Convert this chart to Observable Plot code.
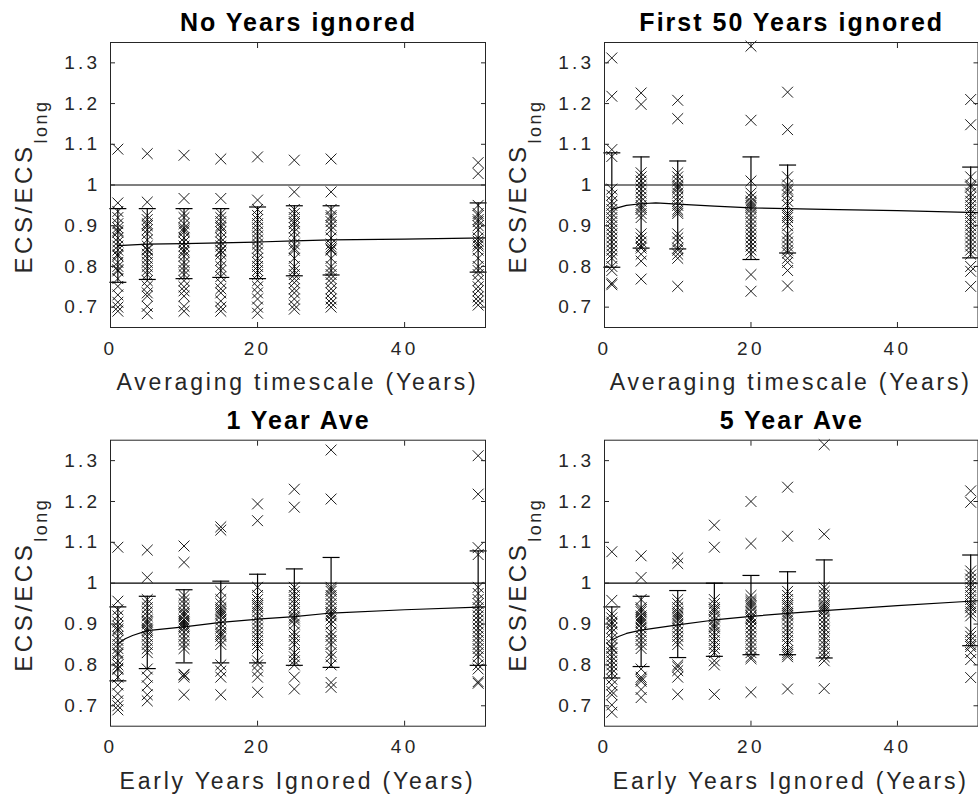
<!DOCTYPE html>
<html>
<head>
<meta charset="utf-8">
<script src="https://cdn.jsdelivr.net/npm/d3@7"></script>
<script src="https://cdn.jsdelivr.net/npm/@observablehq/plot@0.6"></script>
<style>
  html, body { margin: 0; padding: 0; background: #fff; }
  #root { position: relative; width: 978px; height: 798px; overflow: hidden; background: #fff; }
  .panel { position: absolute; }
</style>
</head>
<body>
<div id="root"></div>
<script>
// ---------------- data ----------------
const xAveraging = [1, 5, 10, 15, 20, 25, 30, 50];
const xFirst50 = [1, 5, 10, 20, 25, 50];
const xEarlyIgnored = [1, 5, 10, 15, 20, 25, 30, 50];
const yTicks = [0.7, 0.8, 0.9, 1.0, 1.1, 1.2, 1.3];
const xTicks = [0, 20, 40];

// averaging timescale, no years ignored
const ave1 = [1.088, 0.956, 0.935, 0.92, 0.905, 0.895, 0.888, 0.884, 0.87, 0.86, 0.85, 0.84, 0.83, 0.826, 0.81, 0.80, 0.792, 0.789, 0.77, 0.751, 0.73, 0.712, 0.70, 0.69];
const ave5 = [1.077, 0.958, 0.925, 0.915, 0.905, 0.90, 0.89, 0.88, 0.865, 0.85, 0.842, 0.84, 0.83, 0.82, 0.81, 0.80, 0.79, 0.78, 0.765, 0.751, 0.735, 0.727, 0.702, 0.684];
const ave10 = [1.073, 0.967, 0.93, 0.92, 0.905, 0.895, 0.89, 0.885, 0.87, 0.86, 0.85, 0.84, 0.835, 0.825, 0.81, 0.80, 0.79, 0.78, 0.765, 0.75, 0.74, 0.727, 0.702, 0.69];
const ave15 = [1.064, 0.967, 0.93, 0.92, 0.91, 0.90, 0.895, 0.885, 0.87, 0.86, 0.85, 0.84, 0.838, 0.83, 0.815, 0.80, 0.79, 0.775, 0.76, 0.745, 0.735, 0.715, 0.70, 0.69];
const ave20 = [1.069, 0.963, 0.94, 0.925, 0.915, 0.905, 0.895, 0.885, 0.875, 0.865, 0.855, 0.845, 0.835, 0.82, 0.81, 0.80, 0.79, 0.78, 0.765, 0.75, 0.735, 0.72, 0.70, 0.685];
const ave25 = [1.061, 0.983, 0.94, 0.93, 0.92, 0.91, 0.905, 0.895, 0.885, 0.87, 0.855, 0.845, 0.84, 0.82, 0.80, 0.79, 0.78, 0.77, 0.76, 0.745, 0.735, 0.72, 0.705, 0.695];
const ave30 = [1.064, 0.983, 0.94, 0.925, 0.92, 0.91, 0.90, 0.89, 0.87, 0.855, 0.848, 0.843, 0.84, 0.82, 0.80, 0.79, 0.78, 0.77, 0.76, 0.745, 0.735, 0.72, 0.71, 0.70];
const ave50 = [1.055, 1.028, 0.95, 0.93, 0.925, 0.915, 0.91, 0.90, 0.89, 0.87, 0.862, 0.855, 0.85, 0.84, 0.82, 0.80, 0.79, 0.78, 0.765, 0.75, 0.74, 0.725, 0.715, 0.705];

// first 50 years ignored
const ave1Skip50 = [1.312, 1.218, 1.087, 1.07, 0.99, 0.975, 0.96, 0.95, 0.94, 0.93, 0.92, 0.91, 0.90, 0.89, 0.88, 0.87, 0.86, 0.85, 0.84, 0.83, 0.82, 0.80, 0.79, 0.759, 0.755];
const ave5Skip50 = [1.226, 1.198, 1.03, 1.02, 1.01, 1.00, 0.99, 0.98, 0.97, 0.96, 0.95, 0.945, 0.94, 0.93, 0.92, 0.88, 0.87, 0.86, 0.85, 0.845, 0.83, 0.813, 0.769];
const ave10Skip50 = [1.208, 1.163, 1.03, 1.02, 1.01, 1.0, 0.995, 0.99, 0.98, 0.97, 0.96, 0.95, 0.94, 0.935, 0.93, 0.88, 0.87, 0.86, 0.845, 0.84, 0.83, 0.82, 0.751];
const ave20Skip50 = [1.341, 1.159, 1.01, 0.98, 0.97, 0.96, 0.955, 0.95, 0.945, 0.94, 0.93, 0.92, 0.91, 0.90, 0.89, 0.88, 0.87, 0.86, 0.85, 0.84, 0.83, 0.78, 0.739];
const ave25Skip50 = [1.228, 1.136, 1.02, 1.0, 0.99, 0.985, 0.975, 0.96, 0.95, 0.93, 0.925, 0.92, 0.91, 0.90, 0.88, 0.87, 0.86, 0.85, 0.84, 0.833, 0.82, 0.81, 0.79, 0.752];
const ave50Skip50 = [1.21, 1.148, 1.02, 1.0, 0.995, 0.98, 0.97, 0.96, 0.95, 0.94, 0.93, 0.92, 0.91, 0.90, 0.89, 0.88, 0.87, 0.86, 0.85, 0.84, 0.83, 0.80, 0.788, 0.751];

// 1 year average, early years ignored
const ave1Skip5 = [1.081, 1.014, 0.96, 0.95, 0.94, 0.93, 0.92, 0.91, 0.905, 0.90, 0.89, 0.885, 0.88, 0.87, 0.86, 0.85, 0.84, 0.83, 0.79, 0.77, 0.749, 0.727, 0.712];
const ave1Skip10 = [1.091, 1.051, 0.97, 0.96, 0.95, 0.94, 0.93, 0.925, 0.92, 0.91, 0.905, 0.90, 0.895, 0.89, 0.88, 0.87, 0.86, 0.85, 0.84, 0.777, 0.775, 0.77, 0.727];
const ave1Skip15 = [1.138, 1.130, 0.98, 0.96, 0.95, 0.94, 0.935, 0.93, 0.925, 0.92, 0.91, 0.90, 0.89, 0.88, 0.875, 0.87, 0.86, 0.85, 0.80, 0.785, 0.77, 0.727];
const ave1Skip20 = [1.194, 1.153, 0.99, 0.97, 0.96, 0.95, 0.945, 0.94, 0.93, 0.92, 0.91, 0.90, 0.89, 0.88, 0.87, 0.86, 0.85, 0.84, 0.81, 0.80, 0.785, 0.77, 0.733];
const ave1Skip25 = [1.230, 1.186, 0.99, 0.98, 0.97, 0.96, 0.95, 0.94, 0.93, 0.92, 0.915, 0.91, 0.90, 0.88, 0.87, 0.86, 0.85, 0.83, 0.82, 0.81, 0.80, 0.77, 0.741];
const ave1Skip30 = [1.326, 1.206, 0.99, 0.985, 0.98, 0.97, 0.96, 0.95, 0.94, 0.93, 0.925, 0.92, 0.91, 0.90, 0.88, 0.87, 0.86, 0.85, 0.83, 0.82, 0.80, 0.757, 0.745];

// 5 year average, early years ignored
const ave5Skip5 = [1.067, 1.014, 0.96, 0.94, 0.935, 0.93, 0.92, 0.915, 0.91, 0.905, 0.90, 0.89, 0.88, 0.87, 0.86, 0.85, 0.84, 0.79, 0.77, 0.765, 0.76, 0.74, 0.72];
const ave5Skip10 = [1.062, 1.048, 0.96, 0.95, 0.94, 0.93, 0.925, 0.92, 0.915, 0.91, 0.90, 0.89, 0.88, 0.87, 0.86, 0.85, 0.80, 0.795, 0.786, 0.77, 0.728];
const ave5Skip15 = [1.142, 1.088, 0.96, 0.95, 0.94, 0.935, 0.93, 0.92, 0.91, 0.90, 0.895, 0.89, 0.88, 0.87, 0.86, 0.85, 0.84, 0.83, 0.81, 0.80, 0.728];
const ave5Skip20 = [1.200, 1.097, 0.97, 0.96, 0.955, 0.95, 0.945, 0.94, 0.93, 0.92, 0.915, 0.91, 0.90, 0.89, 0.88, 0.87, 0.86, 0.85, 0.84, 0.83, 0.82, 0.815, 0.733];
const ave5Skip25 = [1.235, 1.115, 0.98, 0.97, 0.96, 0.95, 0.945, 0.94, 0.93, 0.925, 0.92, 0.91, 0.90, 0.89, 0.88, 0.87, 0.86, 0.85, 0.835, 0.83, 0.825, 0.82, 0.741];
const ave5Skip30 = [1.339, 1.120, 0.99, 0.98, 0.97, 0.96, 0.95, 0.945, 0.94, 0.935, 0.93, 0.92, 0.91, 0.90, 0.89, 0.88, 0.87, 0.86, 0.85, 0.84, 0.83, 0.82, 0.81, 0.742];

// error bars (lower / upper) per column
const noIgnoredLo = [0.761, 0.768, 0.770, 0.773, 0.770, 0.777, 0.779, 0.786];
const noIgnoredHi = [0.942, 0.942, 0.942, 0.942, 0.946, 0.949, 0.949, 0.956];
const first50Lo = [0.798, 0.845, 0.843, 0.817, 0.833, 0.821];
const first50Hi = [1.079, 1.069, 1.059, 1.069, 1.049, 1.044];
const oneYearLo = [0.761, 0.791, 0.805, 0.805, 0.805, 0.799, 0.794, 0.799];
const oneYearHi = [0.942, 0.968, 0.984, 1.005, 1.022, 1.035, 1.063, 1.079];
const fiveYearLo = [0.768, 0.796, 0.818, 0.821, 0.825, 0.825, 0.817, 0.847];
const fiveYearHi = [0.942, 0.968, 0.982, 1.000, 1.019, 1.028, 1.057, 1.069];

// fitted curves
const noIgnoredFitX = [1, 5, 10, 15, 20, 25, 30, 40, 51];
const noIgnoredFitY = [0.851, 0.855, 0.856, 0.858, 0.860, 0.863, 0.865, 0.867, 0.870];
const first50FitX = [1, 2, 3, 5, 7, 10, 15, 20, 25, 30, 40, 51];
const first50FitY = [0.940, 0.945, 0.950, 0.954, 0.956, 0.953, 0.948, 0.944, 0.942, 0.940, 0.937, 0.932];
const oneYearFitX = [1, 2, 3, 5, 10, 15, 20, 25, 30, 40, 51];
const oneYearFitY = [0.851, 0.864, 0.872, 0.884, 0.893, 0.904, 0.912, 0.918, 0.927, 0.935, 0.942];
const fiveYearFitX = [1, 2, 3, 5, 10, 15, 20, 25, 30, 40, 51];
const fiveYearFitY = [0.861, 0.870, 0.877, 0.885, 0.898, 0.910, 0.919, 0.926, 0.933, 0.945, 0.957];

const titles = ["No Years ignored", "First 50 Years ignored", "1 Year Ave", "5 Year Ave"];
const xLabels = ["Averaging timescale (Years)", "Averaging timescale (Years)", "Early Years Ignored (Years)", "Early Years Ignored (Years)"];

// ---------------- panels ----------------
const panels = [
  {title: titles[0], xlabel: xLabels[0], xs: xAveraging,
   cols: [ave1, ave5, ave10, ave15, ave20, ave25, ave30, ave50],
   lo: noIgnoredLo, hi: noIgnoredHi, fx: noIgnoredFitX, fy: noIgnoredFitY,
   left: 0, top: 0, mL: 110, mR: 4, mT: 42, mB: 72},
  {title: titles[1], xlabel: xLabels[1], xs: xFirst50,
   cols: [ave1Skip50, ave5Skip50, ave10Skip50, ave20Skip50, ave25Skip50, ave50Skip50],
   lo: first50Lo, hi: first50Hi, fx: first50FitX, fy: first50FitY,
   left: 489, top: 0, mL: 115, mR: 0.5, mT: 42, mB: 72},
  {title: titles[2], xlabel: xLabels[2], xs: xEarlyIgnored,
   cols: [ave1, ave1Skip5, ave1Skip10, ave1Skip15, ave1Skip20, ave1Skip25, ave1Skip30, ave1Skip50],
   lo: oneYearLo, hi: oneYearHi, fx: oneYearFitX, fy: oneYearFitY,
   left: 0, top: 399, mL: 110, mR: 4, mT: 40.7, mB: 72.3},
  {title: titles[3], xlabel: xLabels[3], xs: xEarlyIgnored,
   cols: [ave5, ave5Skip5, ave5Skip10, ave5Skip15, ave5Skip20, ave5Skip25, ave5Skip30, ave5Skip50],
   lo: fiveYearLo, hi: fiveYearHi, fx: fiveYearFitX, fy: fiveYearFitY,
   left: 489, top: 399, mL: 115, mR: 0.5, mT: 40.7, mB: 72.3}
];

const capSymbol = {
  draw(context, size) {
    const w = Math.sqrt(size / Math.PI);
    context.moveTo(-w, 0);
    context.lineTo(w, 0);
  }
};

const W = 489, H = 399;
const ink = "#262626";
const root = document.getElementById("root");

for (const p of panels) {
  const points = p.cols.flatMap((vals, i) => vals.map(v => ({x: p.xs[i], y: v})));
  const bars = p.xs.map((x, i) => ({x, lo: p.lo[i], hi: p.hi[i]}));
  const fit = p.fx.map((x, i) => ({x, y: p.fy[i]}));

  const svgNode = Plot.plot({
    width: W,
    height: H,
    marginLeft: p.mL,
    marginRight: p.mR,
    marginTop: p.mT,
    marginBottom: p.mB,
    x: {domain: [0, 51]},
    y: {domain: [0.65, 1.35]},
    style: {
      fontFamily: "'Liberation Sans', Arial, sans-serif",
      fontSize: "19px",
      letterSpacing: "3.3px",
      color: ink,
      background: "transparent",
      overflow: "visible"
    },
    marks: [
      Plot.ruleY([1], {stroke: "black", strokeWidth: 1.2}),
      Plot.line(fit, {x: "x", y: "y", stroke: "black", strokeWidth: 1.2}),
      Plot.dot(points, {x: "x", y: "y", symbol: "times", r: 5, stroke: "#111", strokeWidth: 0.95}),
      Plot.ruleX(bars, {x: "x", y1: "lo", y2: "hi", stroke: "black", strokeWidth: 1.2}),
      Plot.dot(bars, {x: "x", y: "hi", symbol: capSymbol, r: 8.5, stroke: "black", strokeWidth: 1.2}),
      Plot.dot(bars, {x: "x", y: "lo", symbol: capSymbol, r: 8.5, stroke: "black", strokeWidth: 1.2}),
      Plot.axisX(xTicks, {anchor: "bottom", tickSize: -5, tickPadding: 18.5, label: null, stroke: ink, tickFormat: d => String(d)}),
      Plot.axisX(xTicks, {anchor: "top", tickSize: -5, label: null, stroke: ink, tickFormat: () => ""}),
      Plot.axisY(yTicks, {anchor: "left", tickSize: -5, tickPadding: 15, label: null, stroke: ink, tickFormat: d3.format(".1~f")}),
      Plot.axisY(yTicks, {anchor: "right", tickSize: -5, label: null, stroke: ink, tickFormat: () => ""}),
      Plot.frame({stroke: ink, strokeWidth: 1})
    ]
  });

  const svg = d3.select(svgNode);
  const frameL = p.mL, frameR = W - p.mR, frameT = p.mT, frameB = H - p.mB;
  const cx = (frameL + frameR) / 2;
  const cy = (frameT + frameB) / 2;

  // title
  svg.append("text")
    .attr("x", cx + 1)
    .attr("y", frameT - 11)
    .attr("text-anchor", "middle")
    .attr("fill", "black")
    .style("font-family", "'Liberation Sans', Arial, sans-serif")
    .style("font-size", "25px")
    .style("font-weight", "bold")
    .style("letter-spacing", "2px")
    .text(p.title);

  // x label
  svg.append("text")
    .attr("x", cx)
    .attr("y", frameB + 63)
    .attr("text-anchor", "middle")
    .attr("fill", ink)
    .style("font-family", "'Liberation Sans', Arial, sans-serif")
    .style("font-size", "23px")
    .style("letter-spacing", "2.8px")
    .text(p.xlabel);

  // y label with subscript
  const yl = svg.append("text")
    .attr("transform", `translate(${frameL - 78},${cy + 2}) rotate(-90)`)
    .attr("text-anchor", "middle")
    .attr("fill", ink)
    .style("font-family", "'Liberation Sans', Arial, sans-serif")
    .style("font-size", "24px")
    .style("letter-spacing", "3.5px");
  yl.append("tspan").text("ECS/ECS");
  yl.append("tspan").attr("dy", 15).attr("font-size", 18).style("font-size", "18px").style("letter-spacing", "2.5px").text("long");

  const div = document.createElement("div");
  div.className = "panel";
  div.style.left = p.left + "px";
  div.style.top = p.top + "px";
  div.appendChild(svgNode);
  root.appendChild(div);
}
</script>
</body>
</html>
